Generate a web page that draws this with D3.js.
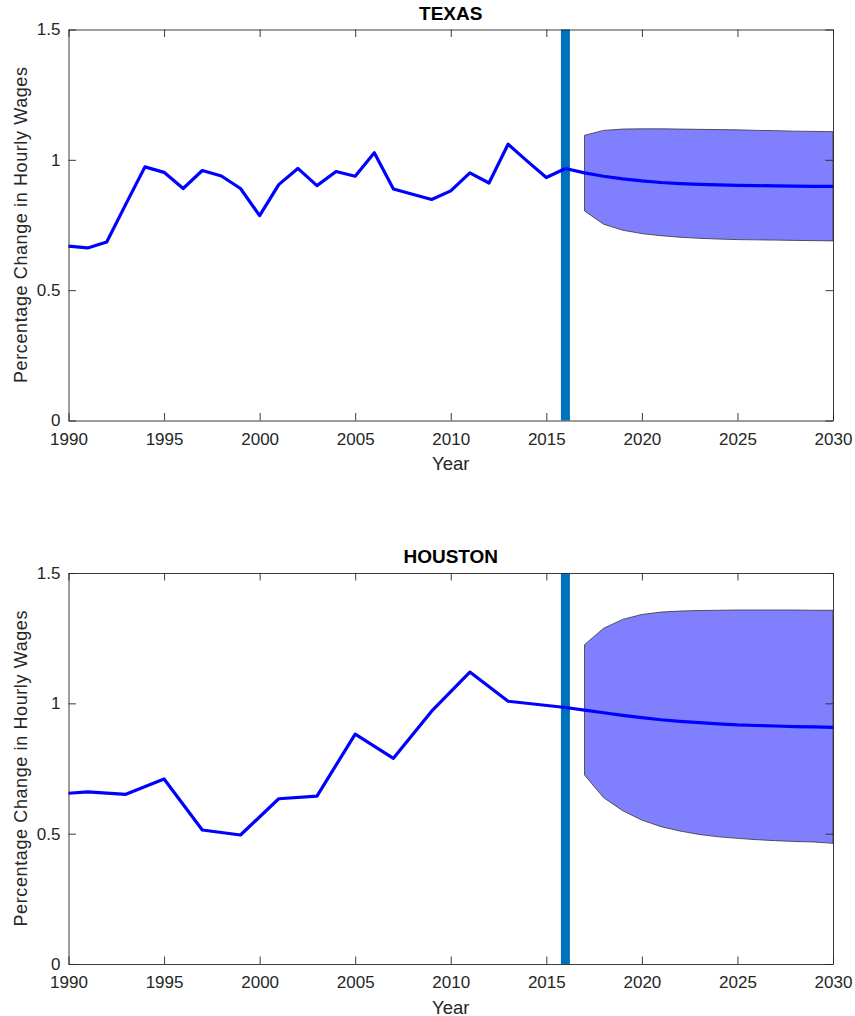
<!DOCTYPE html>
<html>
<head>
<meta charset="utf-8">
<script src="https://cdn.jsdelivr.net/npm/d3@7"></script>
<style>
  body { margin: 0; background: #fff; }
  text { font-family: "Liberation Sans", Arial, Helvetica, sans-serif; fill: #262626; }
</style>
</head>
<body>
<script>
// Datos
var texasYears = [1990, 1991, 1992, 1993, 1994, 1995, 1996, 1997, 1998, 1999,
                  2000, 2001, 2002, 2003, 2004, 2005, 2006, 2007, 2008, 2009,
                  2010, 2011, 2012, 2013, 2014, 2015, 2016];
var texasValues = [0.669, 0.662, 0.685, 0.830, 0.973, 0.952, 0.890, 0.959, 0.938, 0.890,
                   0.786, 0.905, 0.967, 0.901, 0.955, 0.937, 1.027, 0.888, 0.868, 0.848,
                   0.881, 0.950, 0.911, 1.060, 0.995, 0.932, 0.967];

var houstonYears = [1990, 1991, 1993, 1995, 1997, 1999, 2001, 2003, 2005, 2007, 2009, 2011, 2013, 2016];
var houstonValues = [0.655, 0.660, 0.651, 0.710, 0.514, 0.495, 0.634, 0.644, 0.882, 0.789, 0.970, 1.120, 1.008, 0.984];

// Pronostico (media) y banda
var fcYears = [2016, 2017, 2018, 2019, 2020, 2021, 2022, 2023, 2024, 2025, 2026, 2027, 2028, 2029, 2030];
var texasMean = [0.967, 0.950, 0.937, 0.927, 0.919, 0.913, 0.909, 0.906, 0.904, 0.902, 0.901, 0.900, 0.899, 0.898, 0.898];
var houstonMean = [0.984, 0.974, 0.964, 0.954, 0.945, 0.937, 0.931, 0.926, 0.921, 0.917, 0.915, 0.913, 0.911, 0.910, 0.908];

var bandYears = [2017, 2018, 2019, 2020, 2021, 2022, 2023, 2024, 2025, 2026, 2027, 2028, 2029, 2030];
var texasUpper = [1.094, 1.113, 1.118, 1.119, 1.119, 1.118, 1.117, 1.116, 1.115, 1.113, 1.112, 1.110, 1.109, 1.108];
var texasLower = [0.804, 0.753, 0.730, 0.717, 0.709, 0.703, 0.699, 0.696, 0.694, 0.693, 0.692, 0.691, 0.690, 0.689];
var houstonUpper = [1.225, 1.288, 1.322, 1.341, 1.350, 1.354, 1.356, 1.357, 1.358, 1.358, 1.358, 1.358, 1.357, 1.357];
var houstonLower = [0.725, 0.638, 0.588, 0.552, 0.527, 0.510, 0.497, 0.488, 0.482, 0.477, 0.473, 0.470, 0.468, 0.463];

var xTicks = [1990, 1995, 2000, 2005, 2010, 2015, 2020, 2025, 2030];
var yTicks = [0, 0.5, 1, 1.5];
var cutYear = 2016;

var W = 855, H = 1016;
var left = 68.5, right = 833;

var svg = d3.select("body")
    .append("svg")
        .attr("width", W)
        .attr("height", H);

// Se dibuja un panel completo
function panel(title, top, bottom, years, values, mean, upper, lower) {
    var x = d3.scaleLinear().domain([1990, 2030]).range([left, right]);
    var y = d3.scaleLinear().domain([0, 1.5]).range([bottom, top]);
    var g = svg.append("g");

    // linea vertical en 2016
    g.append("rect")
        .attr("x", x(cutYear) - 4.5)
        .attr("y", top)
        .attr("width", 9)
        .attr("height", bottom - top)
        .attr("fill", "#0072BD");

    // banda del pronostico
    var pts = bandYears.map(function(d, i){ return [x(d), y(upper[i])]; });
    for (var i = bandYears.length - 1; i >= 0; i--) {
        pts.push([x(bandYears[i]), y(lower[i])]);
    }
    g.append("path")
        .attr("d", "M" + pts.join("L") + "Z")
        .attr("fill", "#8080FF")
        .attr("stroke", "#333")
        .attr("stroke-width", 0.8);

    var line = d3.line()
        .x(function(d){ return x(d[0]); })
        .y(function(d){ return y(d[1]); });

    g.append("path")
        .datum(years.map(function(d, i){ return [d, values[i]]; }))
        .attr("d", line)
        .attr("fill", "none")
        .attr("stroke", "#0000FF")
        .attr("stroke-width", 3.2)
        .attr("stroke-linejoin", "round");

    g.append("path")
        .datum(fcYears.map(function(d, i){ return [d, mean[i]]; }))
        .attr("d", line)
        .attr("fill", "none")
        .attr("stroke", "#0000FF")
        .attr("stroke-width", 3.2)
        .attr("stroke-linejoin", "round");

    // ejes con marcas hacia dentro (estilo caja)
    var tl = 7.5;
    var fmt = function(d){ return d3.format("")(d); };
    g.append("g").attr("transform", "translate(0," + bottom + ")")
        .call(d3.axisBottom(x).tickValues(xTicks).tickSizeInner(-tl).tickSizeOuter(0).tickPadding(12).tickFormat(d3.format("d")));
    g.append("g").attr("transform", "translate(0," + top + ")")
        .call(d3.axisTop(x).tickValues(xTicks).tickSizeInner(-tl).tickSizeOuter(0).tickFormat(""));
    g.append("g").attr("transform", "translate(" + left + ",0)")
        .call(d3.axisLeft(y).tickValues(yTicks).tickSizeInner(-tl).tickSizeOuter(0).tickPadding(8).tickFormat(fmt));
    g.append("g").attr("transform", "translate(" + right + ",0)")
        .call(d3.axisRight(y).tickValues(yTicks).tickSizeInner(-tl).tickSizeOuter(0).tickFormat(""));

    g.selectAll(".domain").attr("stroke", "#262626").attr("stroke-width", 0.9);
    g.selectAll(".tick line").attr("stroke", "#262626").attr("stroke-width", 0.9);
    g.selectAll(".tick text")
        .attr("font-family", "Liberation Sans, Arial, sans-serif")
        .attr("font-size", 17)
        .attr("fill", "#262626");

    g.append("text")
        .attr("x", (left + right) / 2)
        .attr("y", top - 10)
        .attr("text-anchor", "middle")
        .attr("font-size", 19)
        .attr("font-weight", "bold")
        .style("fill", "#000")
        .text(title);

    g.append("text")
        .attr("x", (left + right) / 2)
        .attr("y", bottom + 49.5)
        .attr("text-anchor", "middle")
        .attr("font-size", 18.5)
        .text("Year");

    g.append("text")
        .attr("transform", "translate(27," + ((top + bottom) / 2) + ") rotate(-90)")
        .attr("text-anchor", "middle")
        .attr("font-size", 18)
        .attr("textLength", 316)
        .attr("lengthAdjust", "spacing")
        .text("Percentage Change in Hourly Wages");
}

panel("TEXAS", 29.5, 420.5, texasYears, texasValues, texasMean, texasUpper, texasLower);
panel("HOUSTON", 573, 964, houstonYears, houstonValues, houstonMean, houstonUpper, houstonLower);
</script>
</body>
</html>
